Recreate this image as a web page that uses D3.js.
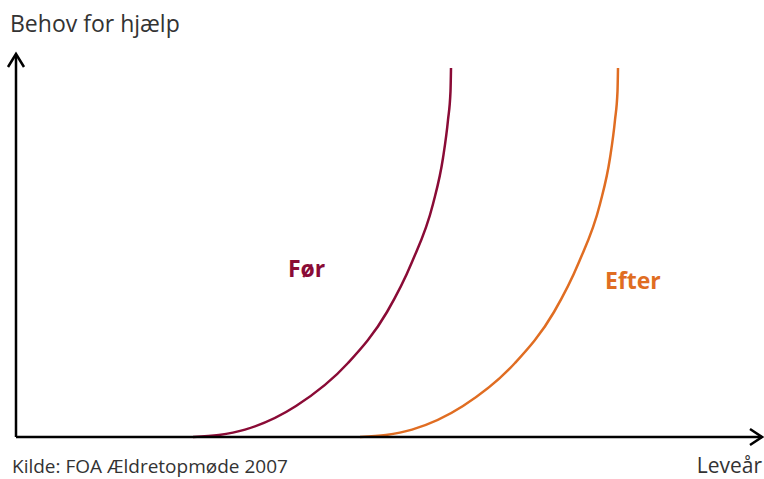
<!DOCTYPE html>
<html>
<head>
<meta charset="utf-8">
<script src="https://cdn.jsdelivr.net/npm/d3@7"></script>
<style>
  body { margin: 0; background: #fff; }
  svg { display: block; font-family: 'Open Sans', 'Noto Sans', sans-serif; }
</style>
</head>
<body>
<svg id="chart" width="764" height="479"></svg>
<script>
// levealder (x) and behov (y)
const forX = [17.7, 20.3, 22.9, 28.0, 33.2, 37.1, 39.6, 41.7, 42.7, 43.2, 43.45, 43.5];
const forY = [0, 0.5, 1.85, 7.75, 18.5, 31.25, 43.75, 58.25, 69.75, 79.25, 86.4, 92.25];
const efterX = [34.4, 37.0, 39.6, 44.7, 49.9, 53.8, 56.3, 58.4, 59.4, 59.9, 60.15, 60.2];
const efterY = [0, 0.5, 1.85, 7.75, 18.5, 31.25, 43.75, 58.25, 69.75, 79.25, 86.4, 92.25];
const seriesNames = ['Før', 'Efter'];
const seriesColors = ['#8a0b36', '#e06d22'];

const svg = d3.select('#chart');

const x = d3.scaleLinear().domain([0, 70]).range([16, 716]);
const y = d3.scaleLinear().domain([0, 100]).range([437, 37]);

const series = [
  forX.map((v, i) => [v, forY[i]]),
  efterX.map((v, i) => [v, efterY[i]])
];

const line = d3.line()
  .x(d => x(d[0]))
  .y(d => y(d[1]))
  .curve(d3.curveMonotoneX);

// curves
svg.append('g')
  .selectAll('path')
  .data(series)
  .join('path')
  .attr('d', line)
  .attr('fill', 'none')
  .attr('stroke', (d, i) => seriesColors[i])
  .attr('stroke-width', 2.5);

// axes with open arrow heads
const axes = svg.append('g')
  .attr('stroke', '#000')
  .attr('stroke-width', 2.5)
  .attr('fill', 'none');

axes.append('path')
  .attr('d', `M${x(0)},${y(0)}H762`);
axes.append('path')
  .attr('d', 'M750,429L762,437L750,445')
  .attr('stroke-linejoin', 'miter');
axes.append('path')
  .attr('d', `M${x(0)},${y(0)}V55`);
axes.append('path')
  .attr('d', 'M8,67L16,54L24,67')
  .attr('stroke-linejoin', 'miter');

// series labels
svg.append('text')
  .attr('x', 288).attr('y', 277)
  .attr('font-size', 23).attr('font-weight', 'bold')
  .attr('fill', seriesColors[0])
  .text(seriesNames[0]);
svg.append('text')
  .attr('x', 605).attr('y', 289)
  .attr('font-size', 23).attr('font-weight', 'bold')
  .attr('fill', seriesColors[1])
  .text(seriesNames[1]);

// axis titles and source
svg.append('text')
  .attr('x', 10).attr('y', 32)
  .attr('font-size', 23).attr('fill', '#333')
  .text('Behov for hjælp');
svg.append('text')
  .attr('x', 762).attr('y', 473)
  .attr('text-anchor', 'end')
  .attr('font-size', 21).attr('fill', '#333')
  .text('Leveår');
svg.append('text')
  .attr('x', 12).attr('y', 473)
  .attr('font-size', 19).attr('fill', '#333')
  .text('Kilde: FOA Ældretopmøde 2007');
</script>
</body>
</html>
